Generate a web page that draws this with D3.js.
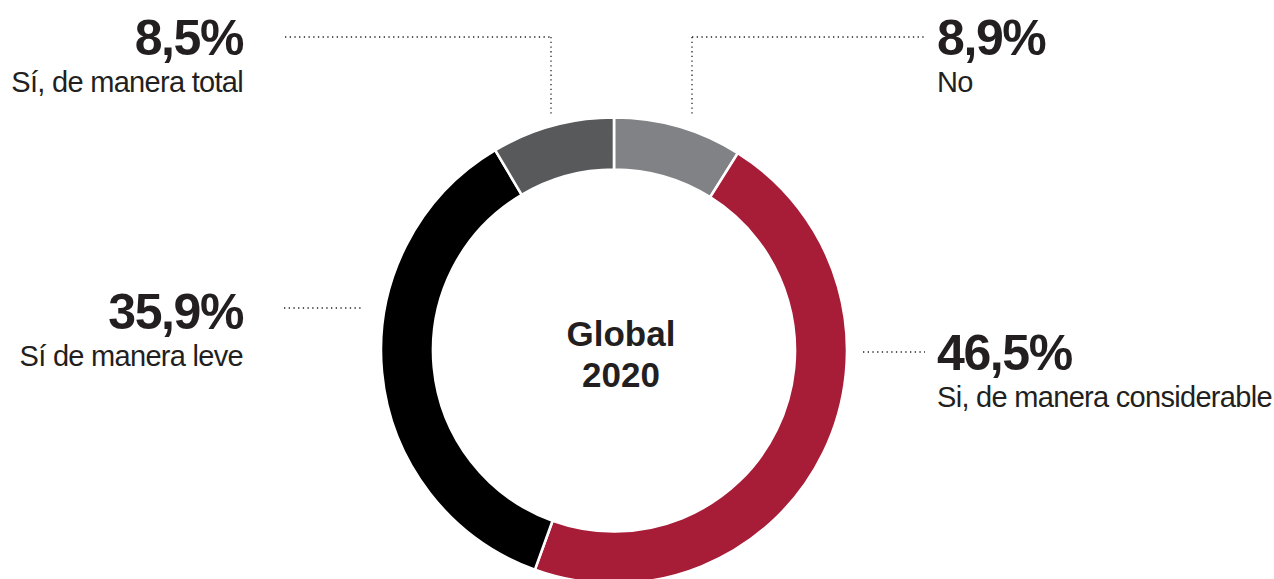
<!DOCTYPE html>
<html>
<head>
<meta charset="utf-8">
<script src="https://cdn.jsdelivr.net/npm/d3@7"></script>
<style>
  html, body { margin: 0; padding: 0; background: #ffffff; }
  svg { display: block; }
  text { font-family: "Liberation Sans", Arial, Helvetica, sans-serif; fill: #231f20; }
</style>
</head>
<body>
<svg id="chart" width="1274" height="579"></svg>
<script>
// Answer categories, clockwise from 12 o'clock
const categories = ["No", "Si, de manera considerable", "Sí de manera leve", "Sí, de manera total"];
const values = [8.9, 46.5, 35.9, 8.5];
const valueLabels = ["8,9%", "46,5%", "35,9%", "8,5%"];
const colors = ["#808285", "#a71c37", "#000000", "#58595b"];
const centerLines = ["Global", "2020"];

const svg = d3.select("#chart");
const cx = 614, cy = 350.5;
const outerR = 233, innerR = 181;

const pie = d3.pie().sort(null).value(d => d.value).startAngle(0).endAngle(2 * Math.PI);
const arc = d3.arc().innerRadius(innerR).outerRadius(outerR);

const data = categories.map((c, i) => ({ category: c, value: values[i], color: colors[i], label: valueLabels[i] }));

const ring = svg.append("g").attr("transform", `translate(${cx},${cy})`);
ring.selectAll("path")
  .data(pie(data))
  .join("path")
  .attr("d", arc)
  .attr("fill", d => d.data.color)
  .attr("stroke", "#ffffff")
  .attr("stroke-width", 2.6)
  .attr("stroke-linejoin", "miter");

// Centre title
ring.selectAll("text.center")
  .data(centerLines)
  .join("text")
  .attr("class", "center")
  .attr("x", 7)
  .attr("y", (d, i) => -4.5 + i * 41)
  .attr("text-anchor", "middle")
  .attr("font-size", 35)
  .attr("font-weight", "bold")
  .text(d => d);

// Leader lines (dotted)
const leaders = [
  [[692, 37], [925, 37]],
  [[692, 37], [692, 116]],
  [[863, 352], [925, 352]],
  [[284, 308], [361, 308]],
  [[285, 37], [551, 37]],
  [[551, 37], [551, 116]]
];
const line = d3.line();
svg.append("g").selectAll("path")
  .data(leaders)
  .join("path")
  .attr("d", line)
  .attr("fill", "none")
  .attr("stroke", "#222222")
  .attr("stroke-width", 1.3)
  .attr("stroke-dasharray", "1.3,3.4");

// Label blocks: value + category
const labelPos = [
  { x: 937, y: 55, anchor: "start" },
  { x: 937, y: 370, anchor: "start" },
  { x: 243, y: 329, anchor: "end" },
  { x: 243, y: 55, anchor: "end" }
];
const labels = svg.append("g").selectAll("g")
  .data(data)
  .join("g")
  .attr("transform", (d, i) => `translate(${labelPos[i].x},${labelPos[i].y})`)
  .attr("text-anchor", (d, i) => labelPos[i].anchor);

labels.append("text")
  .attr("font-size", 50)
  .attr("font-weight", "bold")
  .attr("letter-spacing", -1.4)
  .text(d => d.label);

labels.append("text")
  .attr("y", 37)
  .attr("font-size", 29)
  .attr("letter-spacing", -0.7)
  .text(d => d.category);
</script>
</body>
</html>
